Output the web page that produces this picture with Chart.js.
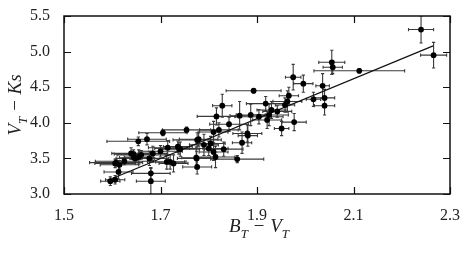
<!DOCTYPE html>
<html>
<head>
<meta charset="utf-8">
<script src="https://cdn.jsdelivr.net/npm/chart.js@4/dist/chart.umd.min.js"></script>
<style>
html,body{margin:0;padding:0;background:#fff;}
canvas{display:block;}
</style>
</head>
<body>
<canvas id="c" width="472" height="254"></canvas>
<script>
// B_T - V_T colour (x) and V_T - Ks colour (y), with errors
const bvX = [2.240,2.266,2.112,2.055,2.057,1.975,1.996,2.036,2.040,2.017,2.040,1.893,1.966,1.963,1.958,1.918,1.930,1.942,1.904,1.925,1.921,1.951,1.977,1.828,1.816,1.864,1.887,1.842,1.810,1.821,1.754,1.779,1.790,1.804,1.810,1.814,1.831,1.869,1.881,1.859,1.774,1.741,1.727,1.705,1.654,1.672,1.639,1.648,1.655,1.677,1.684,1.606,1.608,1.613,1.606,1.596,1.680,1.680,1.715,1.738,1.713,1.720,1.776,1.775,1.800,1.880,1.736,1.644,1.645,1.615,1.776,1.625,1.660,1.700];
const vkY = [5.31,4.95,4.73,4.85,4.78,4.64,4.55,4.52,4.35,4.33,4.24,4.45,4.38,4.30,4.25,4.27,4.18,4.16,4.085,4.11,4.04,3.92,4.01,4.24,4.09,4.10,4.11,3.98,3.87,3.90,3.90,3.77,3.69,3.71,3.59,3.52,3.63,3.72,3.82,3.49,3.51,3.63,3.43,3.86,3.74,3.77,3.57,3.50,3.52,3.50,3.57,3.43,3.44,3.31,3.20,3.18,3.29,3.18,3.65,3.64,3.45,3.45,3.76,3.50,3.64,3.85,3.665,3.56,3.51,3.41,3.38,3.46,3.55,3.60];
const xErr = [0.026,0.027,0.094,0.027,0.020,0.016,0.020,0.014,0.021,0.015,0.021,0.057,0.020,0.030,0.020,0.040,0.030,0.030,0.050,0.040,0.030,0.015,0.025,0.020,0.040,0.020,0.030,0.040,0.030,0.040,0.050,0.040,0.030,0.030,0.030,0.040,0.040,0.020,0.020,0.055,0.030,0.040,0.030,0.050,0.065,0.040,0.040,0.040,0.030,0.040,0.030,0.042,0.055,0.030,0.020,0.020,0.040,0.030,0.040,0.050,0.040,0.030,0.050,0.040,0.040,0.030,0.030,0.040,0.030,0.040,0.030,0.060,0.050,0.045];
const yErr = [0.19,0.18,0.03,0.17,0.09,0.18,0.12,0.17,0.12,0.10,0.13,0.03,0.12,0.15,0.10,0.10,0.12,0.08,0.10,0.15,0.12,0.10,0.12,0.16,0.12,0.20,0.15,0.10,0.15,0.10,0.04,0.10,0.15,0.10,0.12,0.15,0.10,0.15,0.15,0.05,0.15,0.10,0.12,0.04,0.06,0.08,0.08,0.06,0.10,0.10,0.10,0.06,0.05,0.10,0.06,0.06,0.08,0.18,0.10,0.08,0.10,0.10,0.10,0.10,0.10,0.12,0.08,0.06,0.08,0.06,0.10,0.05,0.06,0.08];
// linear fit
const fitX = [1.59, 2.265];
const fitY = [3.19, 5.08];
// axis ticks
const xTicks = [1.5, 1.7, 1.9, 2.1, 2.3];
const yTicks = [3.0, 3.5, 4.0, 4.5, 5.0, 5.5];

const pts = bvX.map((x, i) => ({x: x, y: vkY[i], xe: xErr[i], ye: yErr[i]}));
const fitPts = fitX.map((x, i) => ({x: x, y: fitY[i]}));

const serif = '"Liberation Serif", "DejaVu Serif", serif';

const errorBars = {
  id: 'errorBars',
  beforeDatasetsDraw(chart) {
    const ctx = chart.ctx, xs = chart.scales.x, ys = chart.scales.y;
    const ca = chart.chartArea;
    ctx.save();
    ctx.beginPath();
    ctx.rect(ca.left, ca.top, ca.right - ca.left, ca.bottom - ca.top);
    ctx.clip();
    ctx.strokeStyle = '#3a3a3a';
    ctx.lineWidth = 1.1;
    const cap = 1.6;
    pts.forEach(p => {
      const px = xs.getPixelForValue(p.x), py = ys.getPixelForValue(p.y);
      const x1 = xs.getPixelForValue(p.x - p.xe), x2 = xs.getPixelForValue(p.x + p.xe);
      const y1 = ys.getPixelForValue(p.y - p.ye), y2 = ys.getPixelForValue(p.y + p.ye);
      ctx.beginPath();
      ctx.moveTo(x1, py); ctx.lineTo(x2, py);
      ctx.moveTo(x1, py - cap); ctx.lineTo(x1, py + cap);
      ctx.moveTo(x2, py - cap); ctx.lineTo(x2, py + cap);
      ctx.moveTo(px, y1); ctx.lineTo(px, y2);
      ctx.moveTo(px - cap, y1); ctx.lineTo(px + cap, y1);
      ctx.moveTo(px - cap, y2); ctx.lineTo(px + cap, y2);
      ctx.stroke();
    });
    ctx.restore();
  }
};

function drawSubText(ctx, parts, x, y, size, rotate) {
  ctx.save();
  ctx.translate(x, y);
  if (rotate) ctx.rotate(-Math.PI / 2);
  ctx.fillStyle = '#222';
  ctx.textBaseline = 'alphabetic';
  let total = 0;
  parts.forEach(p => {
    ctx.font = 'italic ' + (p.sub ? size * 0.68 : size) + 'px ' + serif;
    total += ctx.measureText(p.t).width;
  });
  let cx = -total / 2;
  parts.forEach(p => {
    ctx.font = 'italic ' + (p.sub ? size * 0.68 : size) + 'px ' + serif;
    ctx.fillText(p.t, cx, p.sub ? size * 0.28 + size * 0.33 : size * 0.33);
    cx += ctx.measureText(p.t).width;
  });
  ctx.restore();
}

const frame = {
  id: 'frame',
  afterDraw(chart) {
    const ctx = chart.ctx, xs = chart.scales.x, ys = chart.scales.y;
    const ca = chart.chartArea;
    ctx.save();
    ctx.strokeStyle = '#111';
    ctx.lineWidth = 1.5;
    ctx.strokeRect(ca.left, ca.top, ca.right - ca.left, ca.bottom - ca.top);
    ctx.lineWidth = 1.2;
    const tl = 7;
    ctx.beginPath();
    xTicks.forEach(v => {
      const px = Math.round(xs.getPixelForValue(v)) + 0.5;
      ctx.moveTo(px, ca.bottom); ctx.lineTo(px, ca.bottom - tl);
      ctx.moveTo(px, ca.top); ctx.lineTo(px, ca.top + tl);
    });
    yTicks.forEach(v => {
      const py = Math.round(ys.getPixelForValue(v)) + 0.5;
      ctx.moveTo(ca.left, py); ctx.lineTo(ca.left + tl, py);
      ctx.moveTo(ca.right, py); ctx.lineTo(ca.right - tl, py);
    });
    ctx.stroke();
    ctx.restore();
    drawSubText(ctx, [{t: 'B'}, {t: 'T', sub: true}, {t: ' \u2212 V'}, {t: 'T', sub: true}], (ca.left + ca.right) / 2 + 2, 226, 19, false);
    drawSubText(ctx, [{t: 'V'}, {t: 'T', sub: true}, {t: ' \u2212 Ks'}], 15, (ca.top + ca.bottom) / 2, 19, true);
  }
};

new Chart(document.getElementById('c'), {
  type: 'scatter',
  data: {
    datasets: [
      {
        type: 'line',
        data: fitPts,
        borderColor: '#111',
        borderWidth: 1.2,
        pointRadius: 0,
        fill: false,
        order: 2
      },
      {
        data: pts,
        backgroundColor: '#000',
        borderColor: '#000',
        pointRadius: 2.9,
        pointBorderWidth: 0,
        order: 1
      }
    ]
  },
  options: {
    responsive: false,
    devicePixelRatio: 1,
    animation: false,
    events: [],
    layout: {padding: {top: 16, right: 22, left: 0, bottom: 0}},
    plugins: {legend: {display: false}, tooltip: {enabled: false}},
    scales: {
      x: {
        type: 'linear',
        min: 1.5, max: 2.3,
        afterBuildTicks: s => { s.ticks = xTicks.map(v => ({value: v})); },
        afterFit: s => { s.height = 60; },
        grid: {display: false},
        border: {display: false},
        ticks: {
          font: {family: serif, size: 16},
          color: '#222',
          padding: 4,
          maxRotation: 0,
          callback: v => Number(v).toFixed(1)
        }
      },
      y: {
        type: 'linear',
        min: 3.0, max: 5.5,
        afterBuildTicks: s => { s.ticks = yTicks.map(v => ({value: v})); },
        afterFit: s => { s.width = 64; },
        grid: {display: false},
        border: {display: false},
        ticks: {
          font: {family: serif, size: 16},
          color: '#222',
          padding: 6,
          callback: v => Number(v).toFixed(1)
        }
      }
    }
  },
  plugins: [errorBars, frame]
});
</script>
</body>
</html>
